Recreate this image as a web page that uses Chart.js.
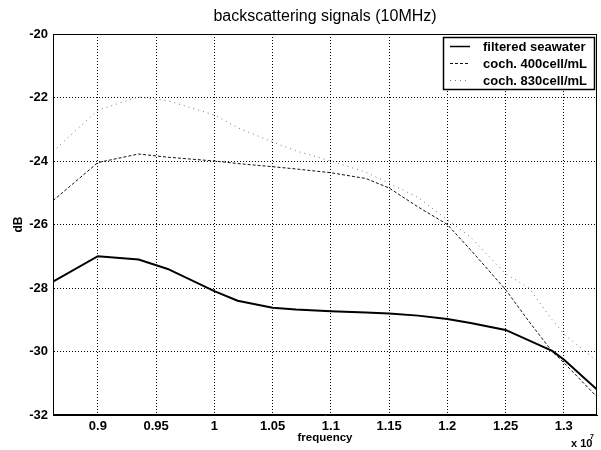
<!DOCTYPE html>
<html>
<head>
<meta charset="utf-8">
<script src="https://cdn.jsdelivr.net/npm/chart.js@4"></script>
<style>
  html, body { margin: 0; padding: 0; background: #fff; }
  #wrap { width: 601px; height: 450px; }
</style>
</head>
<body>
<div id="wrap"><canvas id="chart" width="601" height="450"></canvas></div>
<script>
// frequency in units of 1e7 Hz
var freq = [0.8615, 0.9, 0.935, 0.96, 1.0, 1.02, 1.05, 1.07, 1.1, 1.13, 1.15, 1.175, 1.2, 1.22, 1.25, 1.27, 1.29, 1.3, 1.3285];
var seawater = [-27.8, -27.0, -27.1, -27.4, -28.1, -28.4, -28.62, -28.68, -28.73, -28.77, -28.8, -28.87, -28.98, -29.1, -29.32, -29.65, -29.98, -30.25, -31.2];
var coch400 = [-25.25, -24.05, -23.78, -23.88, -24.0, -24.08, -24.18, -24.25, -24.37, -24.55, -24.85, -25.45, -26.0, -26.8, -28.05, -29.05, -30.0, -30.35, -31.43];
var coch830 = [-23.7, -22.4, -21.98, -22.1, -22.55, -22.95, -23.4, -23.68, -24.0, -24.35, -24.7, -25.15, -25.85, -26.4, -27.55, -28.0, -29.0, -29.45, -30.3];
var seriesNames = ['filtered seawater', 'coch. 400cell/mL', 'coch. 830cell/mL'];
var xTicks = [0.9, 0.95, 1.0, 1.05, 1.1, 1.15, 1.2, 1.25, 1.3];
var xTickLabels = ['0.9', '0.95', '1', '1.05', '1.1', '1.15', '1.2', '1.25', '1.3'];
var yTicks = [-32, -30, -28, -26, -24, -22, -20];

var FONT = '"Liberation Sans", Arial, sans-serif';

function pts(ys) {
    return freq.map(function (f, i) { return {x: f, y: ys[i]}; });
}

var styles = [
    {color: '#000', width: 2, dash: []},
    {color: '#111', width: 1, dash: [3, 2]},
    {color: '#777', width: 1, dash: [1, 4]}
];

// frame, legend box, title and the x10^7 exponent
var extras = {
    id: 'extras',
    afterDraw: function (chart) {
        var ctx = chart.ctx, a = chart.chartArea;
        ctx.save();
        ctx.strokeStyle = '#000';
        ctx.lineWidth = 1;
        ctx.setLineDash([]);
        ctx.strokeRect(a.left + 0.5, a.top + 0.5, a.right - a.left - 1, a.bottom - a.top - 1);

        ctx.fillStyle = '#000';
        ctx.font = '16px ' + FONT;
        ctx.textAlign = 'center';
        ctx.textBaseline = 'middle';
        ctx.fillText('backscattering signals (10MHz)', (a.left + a.right) / 2, 17);

        // legend
        var lx = 443, ly = 37, lw = 151, lh = 52;
        ctx.fillStyle = '#fff';
        ctx.fillRect(lx, ly, lw, lh);
        ctx.strokeStyle = '#000';
        ctx.lineWidth = 1.5;
        ctx.strokeRect(lx + 0.5, ly + 0.5, lw, lh);
        ctx.font = 'bold 13px ' + FONT;
        ctx.textAlign = 'left';
        for (var i = 0; i < seriesNames.length; i++) {
            var yy = ly + 9.5 + i * 17;
            ctx.strokeStyle = styles[i].color;
            ctx.lineWidth = styles[i].width === 2 ? 1.5 : 1;
            ctx.setLineDash(styles[i].dash);
            ctx.beginPath();
            ctx.moveTo(lx + 7, yy);
            ctx.lineTo(lx + 27, yy);
            ctx.stroke();
            ctx.setLineDash([]);
            ctx.fillStyle = '#000';
            ctx.fillText(seriesNames[i], lx + 40, yy + 0.5);
        }

        ctx.font = 'bold 11px ' + FONT;
        ctx.textAlign = 'left';
        ctx.fillText('x 10', 571, 444);
        ctx.font = 'bold 7px ' + FONT;
        ctx.fillText('7', 590, 437);
        ctx.restore();
    }
};

var ctx = document.getElementById('chart').getContext('2d');
var chart = new Chart(ctx, {
    type: 'line',
    data: {
        datasets: [seawater, coch400, coch830].map(function (d, i) {
            return {
                label: seriesNames[i],
                data: pts(d),
                borderColor: styles[i].color,
                borderWidth: styles[i].width,
                borderDash: styles[i].dash,
                pointRadius: 0,
                tension: 0,
                fill: false
            };
        })
    },
    options: {
        responsive: false,
        animation: false,
        layout: { padding: { top: 34, right: 4, left: 0, bottom: 0 } },
        plugins: { legend: { display: false }, title: { display: false }, tooltip: { enabled: false } },
        scales: {
            x: {
                type: 'linear',
                min: 0.8615,
                max: 1.3285,
                afterBuildTicks: function (s) { s.ticks = xTicks.map(function (v) { return {value: v}; }); },
                afterFit: function (s) { s.height = 35; },
                ticks: {
                    padding: 4,
                    color: '#000',
                    font: { family: FONT, size: 13, weight: 'bold' },
                    maxRotation: 0,
                    autoSkip: false,
                    callback: function (v) {
                        var k = xTicks.indexOf(v);
                        return k >= 0 ? xTickLabels[k] : '';
                    }
                },
                grid: { color: '#000', lineWidth: 1, drawTicks: false },
                border: { display: true, color: '#000', dash: [1, 2] },
                title: {
                    display: true,
                    text: 'frequency',
                    color: '#000',
                    font: { family: FONT, size: 11.5, weight: 'bold' },
                    padding: { top: 0, bottom: 5 }
                }
            },
            y: {
                min: -32,
                max: -20,
                afterBuildTicks: function (s) { s.ticks = yTicks.map(function (v) { return {value: v}; }); },
                afterFit: function (s) { s.width = 53; },
                ticks: {
                    padding: 5,
                    color: '#000',
                    font: { family: FONT, size: 13, weight: 'bold' }
                },
                grid: { color: '#000', lineWidth: 1, drawTicks: false },
                border: { display: true, color: '#000', dash: [1, 2] },
                title: {
                    display: true,
                    text: 'dB',
                    color: '#000',
                    font: { family: FONT, size: 12, weight: 'bold' },
                    padding: { top: 11, bottom: 0 }
                }
            }
        }
    },
    plugins: [extras]
});
</script>
</body>
</html>
